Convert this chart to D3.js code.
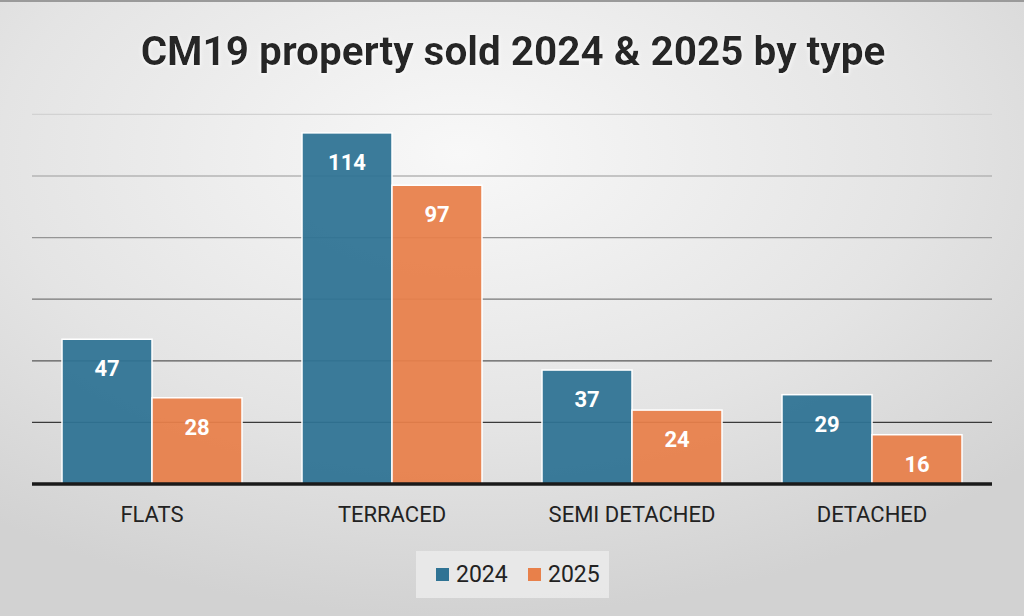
<!DOCTYPE html>
<html>
<head>
<meta charset="utf-8">
<script src="https://cdn.jsdelivr.net/npm/d3@7"></script>
<style>
  html, body { margin: 0; padding: 0; background: #e4e4e4; }
  svg { display: block; font-family: Roboto, "Noto Sans", sans-serif; }
</style>
</head>
<body>
<div id="chart"></div>
<script>
var categories = ["FLATS", "TERRACED", "SEMI DETACHED", "DETACHED"];
var seriesNames = ["2024", "2025"];
var sold2024 = [47, 114, 37, 29];
var sold2025 = [28, 97, 24, 16];
var gridTicks = [20, 40, 60, 80, 100, 120];

var width = 1024;
var height = 616;
var colors = ["#2f7394", "#e8804a"];

var svg = d3.select("#chart")
    .append("svg")
    .attr("width", width)
    .attr("height", height);

var defs = svg.append("defs");

var bg = defs.append("radialGradient")
    .attr("id", "bg")
    .attr("cx", "45%").attr("cy", "25%")
    .attr("r", "75%");
bg.append("stop").attr("offset", "0%").attr("stop-color", "#f8f8f8");
bg.append("stop").attr("offset", "60%").attr("stop-color", "#e4e4e4");
bg.append("stop").attr("offset", "100%").attr("stop-color", "#d2d2d2");

var glow = defs.append("filter").attr("id", "glow")
    .attr("x", "-10%").attr("y", "-30%").attr("width", "120%").attr("height", "160%");
glow.append("feDropShadow")
    .attr("dx", 0).attr("dy", 1)
    .attr("stdDeviation", 2)
    .attr("flood-color", "#ffffff")
    .attr("flood-opacity", 1);

svg.append("rect")
    .attr("width", width)
    .attr("height", height)
    .attr("fill", "url(#bg)");

svg.append("line")
    .attr("x1", 0).attr("x2", width)
    .attr("y1", 1).attr("y2", 1)
    .attr("stroke", "#9a9a9a")
    .attr("stroke-width", 2);

// title
svg.append("text")
    .attr("x", 513)
    .attr("y", 65)
    .attr("text-anchor", "middle")
    .attr("font-size", 40.5)
    .attr("font-weight", "bold")
    .attr("fill", "#262626")
    .attr("filter", "url(#glow)")
    .text("CM19 property sold 2024 & 2025 by type");

var x0 = d3.scaleBand()
    .domain(categories)
    .range([32, 992])
    .paddingInner(0.25)
    .paddingOuter(0.125);

var x1 = d3.scaleBand()
    .domain(seriesNames)
    .range([0, x0.bandwidth()]);

var y = d3.scaleLinear()
    .domain([0, 120])
    .range([484, 114.4]);

var gridColor = d3.scaleLinear()
    .domain([120, 20])
    .range(["#d2d2d2", "#3a3a3a"]);

// gridlines
svg.append("g")
    .selectAll("line")
    .data(gridTicks)
    .join("line")
    .attr("x1", 32)
    .attr("x2", 992)
    .attr("y1", d => y(d))
    .attr("y2", d => y(d))
    .attr("stroke", d => gridColor(d))
    .attr("stroke-width", 1.3);

var rows = categories.map((c, i) => ({cat: c, values: [sold2024[i], sold2025[i]]}));

var groups = svg.append("g")
    .selectAll("g")
    .data(rows)
    .join("g")
    .attr("transform", d => "translate(" + x0(d.cat) + ",0)");

groups.selectAll("rect")
    .data(d => d.values.map((v, k) => ({key: seriesNames[k], value: v, k: k})))
    .join("rect")
    .attr("x", d => x1(d.key))
    .attr("y", d => y(d.value))
    .attr("width", x1.bandwidth())
    .attr("height", d => y(0) - y(d.value))
    .attr("fill", d => colors[d.k])
    .attr("fill-opacity", 0.94)
    .attr("stroke", "#ffffff")
    .attr("stroke-width", 1.5);

groups.selectAll("text")
    .data(d => d.values.map((v, k) => ({key: seriesNames[k], value: v})))
    .join("text")
    .attr("x", d => x1(d.key) + x1.bandwidth() / 2)
    .attr("y", d => y(d.value) + 37)
    .attr("text-anchor", "middle")
    .attr("font-size", 22)
    .attr("font-weight", "bold")
    .attr("fill", "#ffffff")
    .text(d => d.value);

// baseline
svg.append("line")
    .attr("x1", 32).attr("x2", 992)
    .attr("y1", y(0)).attr("y2", y(0))
    .attr("stroke", "#1a1a1a")
    .attr("stroke-width", 3.5);

// category labels
var xAxis = svg.append("g")
    .attr("transform", "translate(0," + y(0) + ")")
    .call(d3.axisBottom(x0).tickSize(0).tickPadding(22));
xAxis.select(".domain").remove();
xAxis.selectAll("text")
    .attr("font-family", "Roboto, sans-serif")
    .attr("font-size", 22)
    .attr("fill", "#222");

// legend
var legend = svg.append("g");
legend.append("rect")
    .attr("x", 416).attr("y", 551)
    .attr("width", 193).attr("height", 47)
    .attr("fill", "#ececec")
    .attr("fill-opacity", 0.8);

var legendX = d3.scalePoint()
    .domain(seriesNames)
    .range([436, 528]);

var items = legend.selectAll("g.item")
    .data(seriesNames)
    .join("g")
    .attr("class", "item")
    .attr("transform", d => "translate(" + legendX(d) + ",568)");

items.append("rect")
    .attr("width", 13).attr("height", 13)
    .attr("fill", (d, i) => colors[i]);

items.append("text")
    .attr("x", 20)
    .attr("y", 14)
    .attr("font-size", 23)
    .attr("fill", "#222")
    .text(d => d);
</script>
</body>
</html>
